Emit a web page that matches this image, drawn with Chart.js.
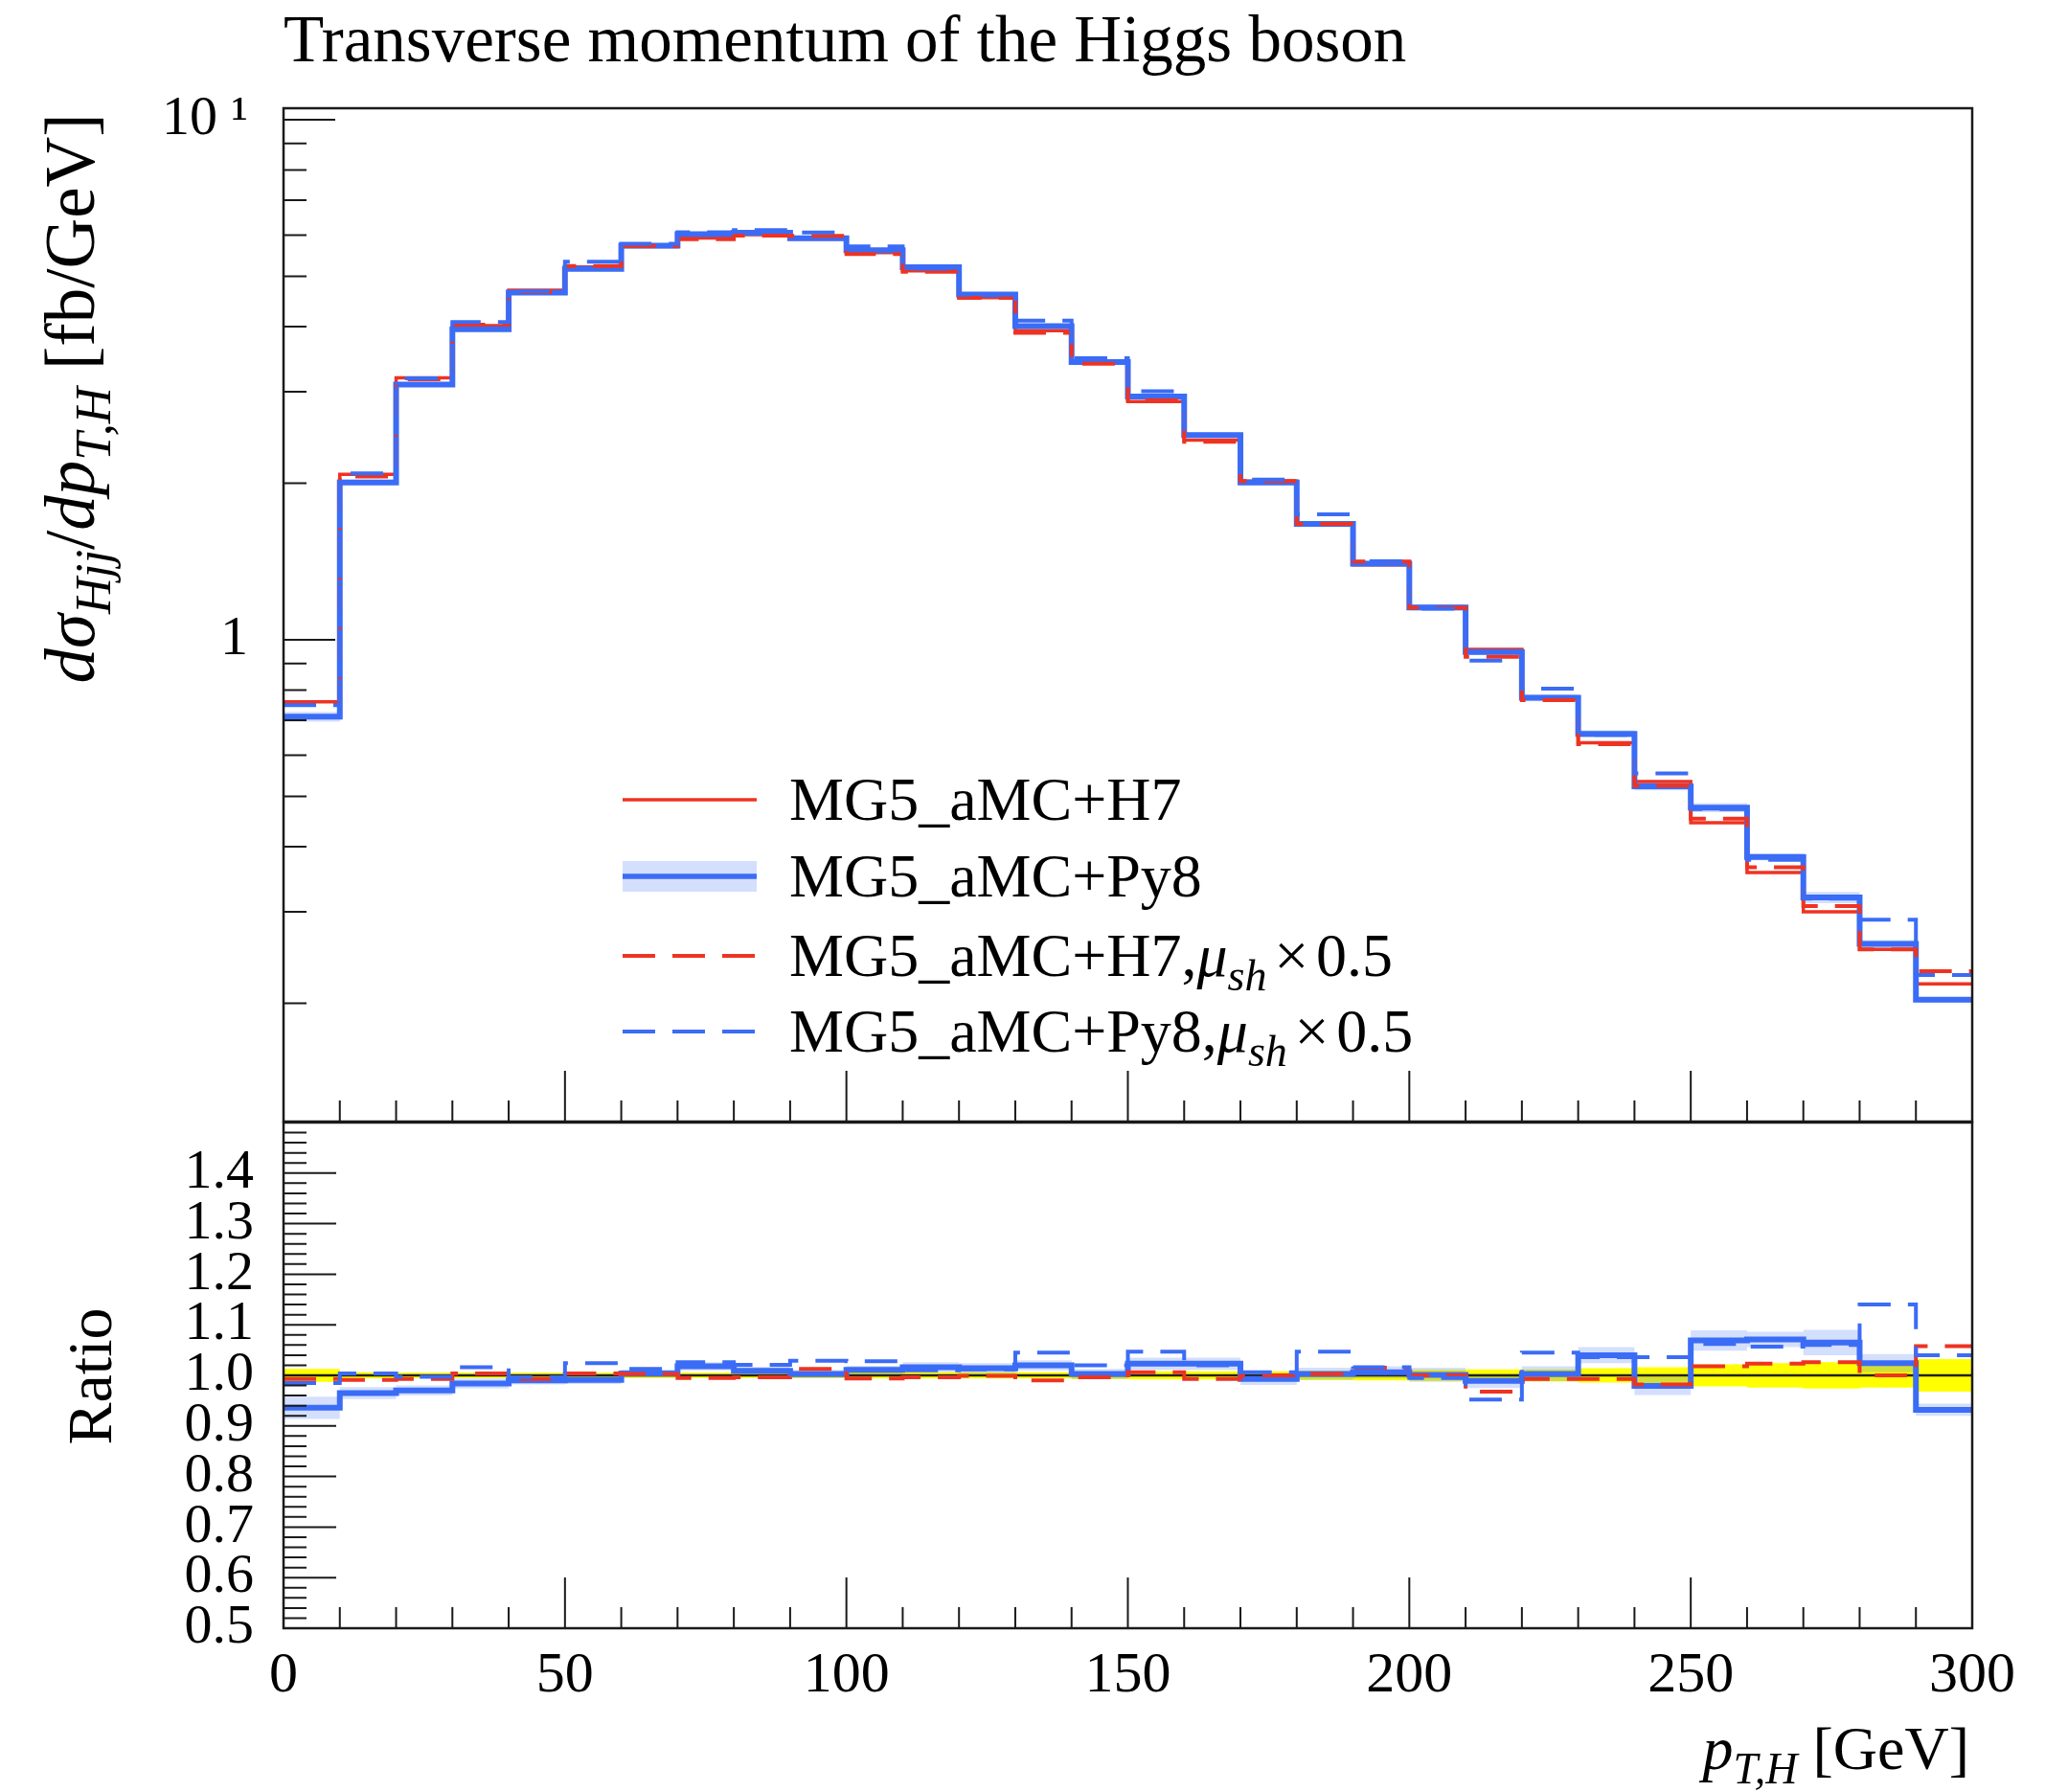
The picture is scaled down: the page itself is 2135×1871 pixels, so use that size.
<!DOCTYPE html>
<html>
<head>
<meta charset="utf-8">
<title>Transverse momentum of the Higgs boson</title>
<script src="https://cdn.jsdelivr.net/npm/chart.js@4.4.1/dist/chart.umd.min.js"></script>
<style>
  html, body { margin: 0; padding: 0; background: #fff; }
  #wrap { position: relative; width: 2135px; height: 1871px; overflow: hidden;
          font-family: 'Liberation Serif', serif; color: #000; }
  canvas { position: absolute; left: 0; top: 0; }
  .txt { position: absolute; white-space: nowrap; line-height: 1; }
  .txt sub { font-size: 0.72em; vertical-align: -0.32em; line-height: 0; }
  .rot { transform: rotate(-90deg); transform-origin: 0 0; text-align: center; }
  .op { margin: 0 0.12em; }
  #legendSvg { position: absolute; left: 0; top: 0; }
</style>
</head>
<body>
<div id="wrap">
  <canvas id="mainChart" width="2135" height="1871"></canvas>
  <canvas id="ratioChart" width="2135" height="1871"></canvas>

  <div class="txt" style="left:296px; top:7px; font-size:69px;">Transverse momentum of the Higgs boson</div>

  <div class="txt rot" style="left:37px; top:816px; width:800px; font-size:73px;">
    <i>dσ</i><sub><i>Hjj</i></sub>/<i>dp</i><sub><i>T,H</i></sub> [fb/GeV]
  </div>
  <div class="txt rot" style="left:61px; top:1637px; width:400px; font-size:66px;">Ratio</div>
  <div class="txt" style="right:79px; top:1794px; font-size:64px;"><i>p</i><sub><i>T,H</i></sub> [GeV]</div>

  <svg id="legendSvg" width="2135" height="1871">
    <line x1="650" y1="835" x2="790" y2="835" stroke="#EE3322" stroke-width="3.5"/>
    <rect x="650" y="899" width="140" height="32" fill="rgba(59,108,246,0.22)"/>
    <line x1="650" y1="915" x2="790" y2="915" stroke="#3B6CF6" stroke-width="5.5"/>
    <line x1="650" y1="998" x2="790" y2="998" stroke="#EE3322" stroke-width="4" stroke-dasharray="34 18"/>
    <line x1="650" y1="1077" x2="790" y2="1077" stroke="#3B6CF6" stroke-width="4" stroke-dasharray="34 18"/>
  </svg>
  <div class="txt" style="left:824px; top:803px; font-size:64px;">MG5_aMC+H7</div>
  <div class="txt" style="left:824px; top:883px; font-size:64px;">MG5_aMC+Py8</div>
  <div class="txt" style="left:824px; top:966px; font-size:64px;">MG5_aMC+H7,<i>μ</i><sub><i>sh</i></sub><span class="op">×</span>0.5</div>
  <div class="txt" style="left:824px; top:1045px; font-size:64px;">MG5_aMC+Py8,<i>μ</i><sub><i>sh</i></sub><span class="op">×</span>0.5</div>
</div>

<script>
// bin edges in GeV (30 bins of 10 GeV)
const binEdges = [0, 10, 20, 30, 40, 50, 60, 70, 80, 90, 100, 110, 120, 130, 140, 150,
  160, 170, 180, 190, 200, 210, 220, 230, 240, 250, 260, 270, 280, 290, 300];

// MG5_aMC+H7, dsigma/dpT in fb/GeV
const h7 = [0.76, 2.08, 3.19, 4.02, 4.70, 5.21, 5.70, 5.92, 6.01, 5.90,
  5.55, 5.12, 4.55, 3.93, 3.41, 2.87, 2.42, 2.02, 1.665, 1.393,
  1.153, 0.958, 0.771, 0.634, 0.534, 0.445, 0.357, 0.300, 0.254, 0.218];

// ratios to MG5_aMC+H7
const ratioPy8 = [0.936, 0.965, 0.970, 0.984, 0.990, 0.991, 1.004, 1.018, 1.009, 1.003,
  1.011, 1.016, 1.014, 1.020, 1.003, 1.023, 1.023, 0.993, 1.003, 1.006,
  1.001, 0.989, 1.003, 1.040, 0.979, 1.069, 1.071, 1.065, 1.024, 0.932];
const ratioH7half = [0.993, 0.991, 0.993, 1.004, 0.993, 1.004, 1.003, 0.995, 0.996, 1.013,
  0.994, 0.996, 0.999, 0.990, 0.996, 1.006, 0.993, 1.000, 1.003, 1.015,
  1.000, 0.968, 0.993, 0.993, 0.982, 1.018, 1.023, 1.026, 1.000, 1.058];
const ratioPy8half = [0.985, 1.004, 0.997, 1.016, 0.996, 1.024, 1.013, 1.026, 1.021, 1.029,
  1.028, 1.010, 1.012, 1.045, 1.020, 1.047, 1.020, 1.006, 1.047, 1.016,
  0.995, 0.952, 1.045, 1.036, 1.036, 1.062, 1.057, 1.060, 1.140, 1.040];

// relative stat. uncertainties (half widths of the bands)
const errH7 = [0.013, 0.006, 0.005, 0.005, 0.005, 0.005, 0.005, 0.005, 0.005, 0.005,
  0.006, 0.006, 0.006, 0.006, 0.007, 0.008, 0.008, 0.008, 0.009, 0.010,
  0.011, 0.012, 0.012, 0.014, 0.016, 0.022, 0.024, 0.026, 0.024, 0.032];
const errPy8 = [0.022, 0.012, 0.010, 0.010, 0.008, 0.008, 0.008, 0.008, 0.008, 0.008,
  0.008, 0.010, 0.010, 0.010, 0.010, 0.012, 0.012, 0.012, 0.012, 0.012,
  0.014, 0.014, 0.015, 0.016, 0.018, 0.020, 0.015, 0.025, 0.018, 0.012];

const ratioTickLabels = [0.5, 0.6, 0.7, 0.8, 0.9, 1.0, 1.1, 1.2, 1.3, 1.4];
const xTickLabels = [0, 50, 100, 150, 200, 250, 300];

const RED = '#EE3322';
const BLUE = '#3B6CF6';
const BAND = 'rgba(59,108,246,0.22)';
const YELLOW = '#FFFF00';
const DASH = [34, 18];

// derived series
const py8 = h7.map((v, i) => v * ratioPy8[i]);
const h7half = h7.map((v, i) => v * ratioH7half[i]);
const py8half = h7.map((v, i) => v * ratioPy8half[i]);
const ratioH7 = h7.map(v => v / v);

// histogram outline: two points per bin
function hist(vals) {
  const pts = [];
  vals.forEach((v, i) => {
    pts.push({ x: binEdges[i], y: v });
    pts.push({ x: binEdges[i + 1], y: v });
  });
  return pts;
}

function line(data, color, width, dash, order) {
  return { data: hist(data), borderColor: color, borderWidth: width, borderDash: dash || [],
    fill: false, order: order, borderJoinStyle: 'miter', borderCapStyle: 'butt' };
}
function bandLow(data, order) {
  return { data: hist(data), borderColor: 'rgba(0,0,0,0)', borderWidth: 1, fill: false, order: order };
}
function bandHigh(data, color, order) {
  return { data: hist(data), borderColor: 'rgba(0,0,0,0)', borderWidth: 1, fill: '-1',
    backgroundColor: color, order: order };
}

// frame + inward tick marks
const frameTicks = {
  id: 'frameTicks',
  afterDatasetsDraw(chart, args, opts) {
    const ctx = chart.ctx, a = chart.chartArea;
    const xs = chart.scales.x, ys = chart.scales.y;
    ctx.save();
    ctx.strokeStyle = '#1a1a1a';
    ctx.lineWidth = 2;
    ctx.beginPath();
    for (let v = 10; v < 300; v += 10) {
      const px = xs.getPixelForValue(v);
      const len = v % 50 === 0 ? 53 : 22;
      ctx.moveTo(px, a.bottom);
      ctx.lineTo(px, a.bottom - len);
    }
    opts.yTicks.forEach(t => {
      const py = ys.getPixelForValue(t.v);
      if (py <= a.top + 1 || py >= a.bottom - 1) return;
      ctx.moveTo(a.left, py);
      ctx.lineTo(a.left + t.len, py);
    });
    ctx.stroke();
    ctx.lineWidth = 2.5;
    ctx.strokeRect(a.left, a.top, a.right - a.left, a.bottom - a.top);
    ctx.restore();
  }
};

const mainYTicks = [];
[0.1, 1, 10].forEach(d => {
  for (let m = 1; m <= 9; m++) mainYTicks.push({ v: m * d, len: m === 1 ? 54 : 24 });
});
const ratioYTicks = [];
for (let k = 26; k < 75; k++) ratioYTicks.push({ v: k * 0.02, len: k % 5 === 0 ? 55 : 24 });

Chart.defaults.font.family = "'Liberation Serif', serif";
Chart.defaults.color = '#000';

const noGrid = { display: false, drawTicks: false };
const noBorder = { display: false };
const LEFT = 296;

new Chart(document.getElementById('mainChart'), {
  type: 'line',
  data: {
    datasets: [
      bandLow(py8.map((v, i) => v * (1 - errPy8[i])), 6),
      bandHigh(py8.map((v, i) => v * (1 + errPy8[i])), BAND, 5),
      line(h7, RED, 3.5, null, 4),
      line(py8, BLUE, 6, null, 3),
      line(h7half, RED, 4, DASH, 2),
      line(py8half, BLUE, 4, DASH, 1)
    ]
  },
  options: {
    responsive: false,
    animation: false,
    devicePixelRatio: 1,
    elements: { point: { radius: 0 }, line: { tension: 0 } },
    layout: { padding: { left: 0, right: 76, top: 113, bottom: 700 } },
    plugins: { legend: { display: false }, tooltip: { enabled: false }, frameTicks: { yTicks: mainYTicks } },
    scales: {
      x: { type: 'linear', min: 0, max: 300, grid: noGrid, border: noBorder,
        ticks: { display: false }, afterFit: s => { s.height = 0; } },
      y: { type: 'logarithmic', min: 0.1185, max: 10.52, grid: noGrid, border: noBorder,
        ticks: { font: { size: 58 }, padding: 37, callback: v => (v === 10 ? '10 ¹' : '1') },
        afterBuildTicks: s => { s.ticks = [{ value: 1 }, { value: 10 }]; },
        afterFit: s => { s.width = LEFT; } }
    }
  },
  plugins: [frameTicks]
});

new Chart(document.getElementById('ratioChart'), {
  type: 'line',
  data: {
    datasets: [
      bandLow(errH7.map(e => 1 - e), 8),
      bandHigh(errH7.map(e => 1 + e), YELLOW, 7),
      bandLow(ratioPy8.map((r, i) => r - errPy8[i]), 6),
      bandHigh(ratioPy8.map((r, i) => r + errPy8[i]), BAND, 5),
      line(ratioH7, '#222', 2.5, null, 4),
      line(ratioPy8, BLUE, 6, null, 3),
      line(ratioH7half, RED, 4, DASH, 2),
      line(ratioPy8half, BLUE, 4, DASH, 1)
    ]
  },
  options: {
    responsive: false,
    animation: false,
    devicePixelRatio: 1,
    elements: { point: { radius: 0 }, line: { tension: 0 } },
    layout: { padding: { left: 0, right: 76, top: 1172, bottom: 0 } },
    plugins: { legend: { display: false }, tooltip: { enabled: false }, frameTicks: { yTicks: ratioYTicks } },
    scales: {
      x: { type: 'linear', min: 0, max: 300, grid: noGrid, border: noBorder,
        ticks: { font: { size: 60 }, padding: 14, maxRotation: 0, autoSkip: false },
        afterBuildTicks: s => { s.ticks = xTickLabels.map(v => ({ value: v })); },
        afterFit: s => { s.height = 171; } },
      y: { type: 'linear', min: 0.5, max: 1.5, grid: noGrid, border: noBorder,
        ticks: { font: { size: 58 }, padding: 31, autoSkip: false, callback: v => v.toFixed(1) },
        afterBuildTicks: s => { s.ticks = ratioTickLabels.map(v => ({ value: v })); },
        afterFit: s => { s.width = LEFT; } }
    }
  },
  plugins: [frameTicks]
});
</script>
</body>
</html>
